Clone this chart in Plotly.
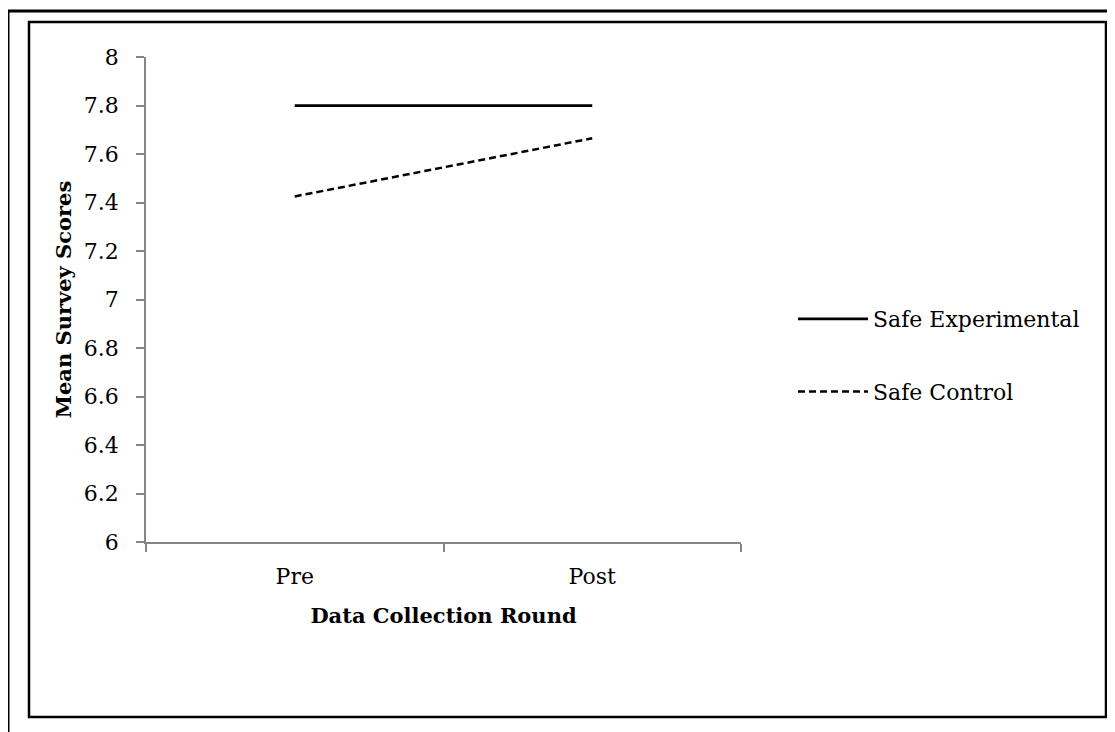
import plotly.graph_objects as go

rounds = ["Pre", "Post"]
safe_experimental = [7.80, 7.80]
safe_control = [7.425, 7.665]
y_ticks = [6, 6.2, 6.4, 6.6, 6.8, 7, 7.2, 7.4, 7.6, 7.8, 8]
y_tick_labels = ["6", "6.2", "6.4", "6.6", "6.8", "7", "7.2", "7.4", "7.6", "7.8", "8"]

# page body adds an 8px offset, so the figure is drawn in shifted coordinates
OFF = 8
W, H = 1115 - OFF, 732 - OFF
L, R, T, B = 146 - OFF, 741 - OFF, 57 - OFF, 542 - OFF  # plot area in px

def px(x):
    return (x - OFF - L) / (R - L)

def py(y):
    return (B - (y - OFF)) / (B - T)

FONT = "DejaVu Serif"

fig = go.Figure()
fig.add_trace(go.Scatter(x=rounds, y=safe_experimental, mode="lines", name="Safe Experimental",
                         legendgroup="a",
                         line=dict(color="black", width=2.75)))
fig.add_trace(go.Scatter(x=rounds, y=safe_control, mode="lines", name="Safe Control",
                         legendgroup="b",
                         line=dict(color="black", width=2.5, dash="7px,4px")))

fig.update_layout(
    width=W, height=H,
    margin=dict(l=L, r=W - R, t=T, b=H - B, autoexpand=False),
    paper_bgcolor="white", plot_bgcolor="white",
    font=dict(family=FONT, size=22, color="black"),
    showlegend=True,
    legend=dict(x=px(793), y=py(355.5), xanchor="left", yanchor="middle",
                font=dict(family=FONT, size=22, color="black"),
                itemwidth=70, tracegroupgap=41, bgcolor="rgba(0,0,0,0)"),
    xaxis=dict(type="category", range=[-0.5, 1.5], showline=True, linecolor="#868686", linewidth=1.5,
               ticks="outside", tickson="boundaries", ticklen=8, tickcolor="#868686", tickwidth=1.5,
               showgrid=False, zeroline=False, ticklabelstandoff=14,
               tickfont=dict(family=FONT, size=22),
               title=dict(text="<b>Data Collection Round</b>", font=dict(family=FONT, size=21), standoff=20)),
    yaxis=dict(range=[6, 8], showline=True, linecolor="#868686", linewidth=1.5,
               tickvals=y_ticks, ticktext=y_tick_labels,
               ticks="outside", ticklen=8, tickcolor="#868686", tickwidth=1.5,
               showgrid=False, zeroline=False, ticklabelstandoff=13,
               tickfont=dict(family=FONT, size=22),
               title=dict(text="<b>Mean Survey Scores</b>", font=dict(family=FONT, size=21), standoff=6)),
    shapes=[
        dict(type="rect", xref="paper", yref="paper",
             x0=px(8), x1=px(1130), y0=py(750), y1=py(11),
             line=dict(color="black", width=3), fillcolor="rgba(0,0,0,0)", layer="above"),
        dict(type="rect", xref="paper", yref="paper",
             x0=px(29), x1=px(1106), y0=py(717), y1=py(22),
             line=dict(color="black", width=2.5), fillcolor="rgba(0,0,0,0)", layer="above"),
    ],
)

fig.write_html("out.html")
